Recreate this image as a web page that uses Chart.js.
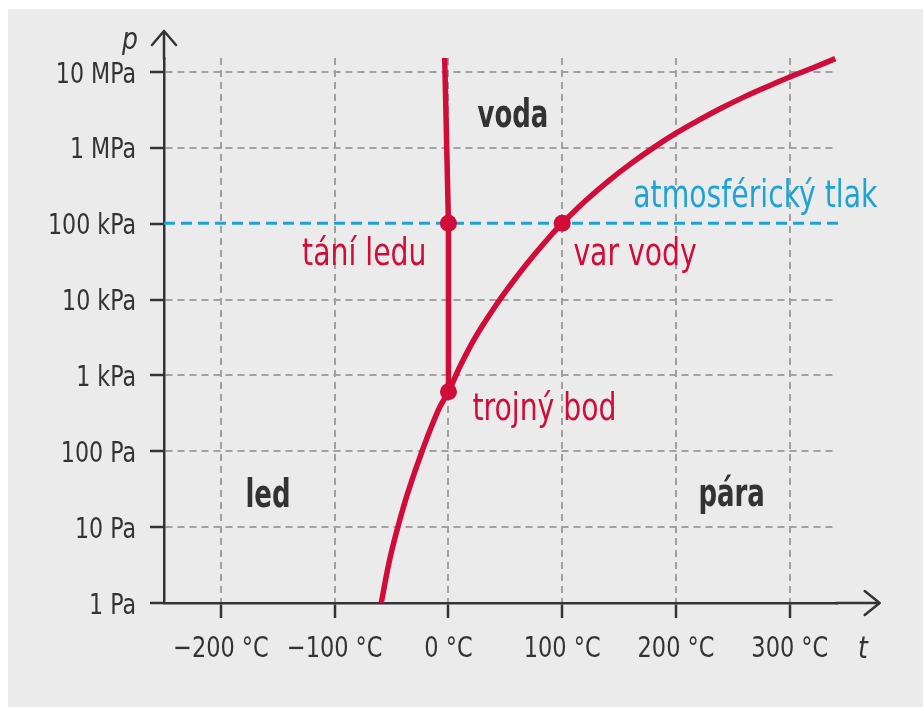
<!DOCTYPE html>
<html>
<head>
<meta charset="utf-8">
<title>Fázový diagram vody</title>
<script src="https://cdn.jsdelivr.net/npm/chart.js@4.4.0/dist/chart.umd.min.js"></script>
<style>
    html, body { margin: 0; padding: 0; background: #ffffff; }
    #wrap { width: 923px; height: 707px; }
</style>
</head>
<body>
<div id="wrap"><canvas id="phaseChart" width="923" height="707"></canvas></div>
<script>
    // křivka sublimace + vypařování (t v °C, p v Pa)
    var curveT = [-59.1, -51.7, -44.4, -35.9, -23.1, -8.9, 0.01,
        10, 20, 30, 40, 50, 60, 70, 80, 90, 100,
        120, 140, 160, 180, 200, 220, 240, 260, 280, 300, 320, 340];
    var curveP = [1, 3.7, 10.1, 27.9, 101, 350, 611,
        1300, 2550, 4550, 7700, 12600, 20000, 31000, 47000, 70000, 101325,
        198000, 360000, 615000, 1000000, 1560000, 2320000, 3350000, 4700000, 6400000, 8600000, 11300000, 15000000];

    // křivka tání
    var meltT = [0.01, 0, -3.3];
    var meltP = [611, 101325, 15300000];

    // význačné body
    var pointNames = ["tání ledu", "var vody", "trojný bod"];
    var pointT = [0, 100, 0.01];
    var pointP = [101325, 101325, 611];

    // atmosférický tlak
    var atmT = [-250, 345];
    var atmP = [101325, 101325];

    // osy
    var xTicks = [-200, -100, 0, 100, 200, 300];
    var xTickLabels = ["\u2212200 \u00b0C", "\u2212100 \u00b0C", "0 \u00b0C", "100 \u00b0C", "200 \u00b0C", "300 \u00b0C"];
    var yTicks = [1, 10, 100, 1000, 10000, 100000, 1000000, 10000000];
    var yTickLabels = ["1 Pa", "10 Pa", "100 Pa", "1 kPa", "10 kPa", "100 kPa", "1 MPa", "10 MPa"];

    var FONT = "'DejaVu Sans Condensed', 'DejaVu Sans', sans-serif";
    var RED = "#d20c38";
    var BLUE = "#1ea2d8";
    var DARK = "#333333";
    var GRID = "#a0a0a0";

    function pairs(xs, ys) {
        return xs.map(function (v, i) { return {x: v, y: ys[i]}; });
    }

    // popisky v datových souřadnicích
    var labels = [
        {text: "voda", t: 25.5, p: Math.pow(10, 6.275), color: DARK, bold: true, align: "left"},
        {text: "led", t: -178.4, p: Math.pow(10, 1.269), color: DARK, bold: true, align: "left"},
        {text: "pára", t: 219.7, p: Math.pow(10, 1.282), color: DARK, bold: true, align: "left"},
        {text: pointNames[0], t: -19.3, p: Math.pow(10, 4.457), color: RED, align: "right"},
        {text: pointNames[1], t: 109.8, p: Math.pow(10, 4.457), color: RED, align: "left"},
        {text: pointNames[2], t: 21.1, p: Math.pow(10, 2.415), color: RED, align: "left"},
        {text: "atmosférický tlak", t: 377, p: Math.pow(10, 5.221), color: BLUE, align: "right"}
    ];

    // text stažený do šířky (písmo je užší než DejaVu)
    function drawText(ctx, text, x, y, font, color, align, squeeze) {
        ctx.save();
        ctx.font = font;
        ctx.fillStyle = color;
        ctx.textAlign = align;
        ctx.textBaseline = "alphabetic";
        ctx.translate(x, y);
        ctx.scale(squeeze, 1);
        ctx.fillText(text, 0, 0);
        ctx.restore();
    }

    var paper = {
        id: "paper",
        beforeDraw: function (chart) {
            var ctx = chart.ctx;
            ctx.save();
            ctx.fillStyle = "#ffffff";
            ctx.fillRect(0, 0, chart.width, chart.height);
            ctx.fillStyle = "#ebebeb";
            ctx.fillRect(8, 9, chart.width - 8, chart.height - 9);
            ctx.restore();
        }
    };

    var extras = {
        id: "extras",
        afterDraw: function (chart) {
            var ctx = chart.ctx;
            var sx = chart.scales.x, sy = chart.scales.y;
            var area = chart.chartArea;
            var tipX = sx.getPixelForValue(379);
            var tipY = sy.getPixelForValue(Math.pow(10, 7.54));

            ctx.save();
            ctx.strokeStyle = DARK;
            ctx.lineWidth = 2.5;
            ctx.lineCap = "round";
            ctx.lineJoin = "round";
            ctx.beginPath();
            ctx.moveTo(area.left, area.top + 1);
            ctx.lineTo(area.left, tipY);
            ctx.moveTo(area.left - 12, tipY + 14);
            ctx.lineTo(area.left, tipY);
            ctx.lineTo(area.left + 12, tipY + 14);
            ctx.moveTo(area.right - 1, area.bottom);
            ctx.lineTo(tipX, area.bottom);
            ctx.moveTo(tipX - 15, area.bottom - 12);
            ctx.lineTo(tipX, area.bottom);
            ctx.lineTo(tipX - 15, area.bottom + 12);
            ctx.stroke();
            ctx.restore();

            // popisky os
            yTicks.forEach(function (v, i) {
                drawText(ctx, yTickLabels[i], area.left - 28, sy.getPixelForValue(v) + 10.5,
                    "28px " + FONT, DARK, "right", 0.88);
            });
            xTicks.forEach(function (v, i) {
                drawText(ctx, xTickLabels[i], sx.getPixelForValue(v), area.bottom + 54,
                    "29px " + FONT, DARK, "center", 0.86);
            });

            labels.forEach(function (l) {
                drawText(ctx, l.text, sx.getPixelForValue(l.t), sy.getPixelForValue(l.p),
                    (l.bold ? "bold 39px " : "37px ") + FONT, l.color, l.align, l.bold ? 0.74 : 0.85);
            });

            drawText(ctx, "p", sx.getPixelForValue(-273), sy.getPixelForValue(Math.pow(10, 7.30)),
                "italic 31px " + FONT, DARK, "right", 0.9);
            drawText(ctx, "t", sx.getPixelForValue(360), sy.getPixelForValue(Math.pow(10, -0.72)),
                "italic 31px " + FONT, DARK, "left", 0.9);
        }
    };

    var ctx = document.getElementById("phaseChart");
    var myChart = new Chart(ctx, {
        type: "line",
        data: {
            datasets: [
                {
                    label: "body",
                    data: pairs(pointT, pointP),
                    showLine: false,
                    pointRadius: 8.5,
                    pointBackgroundColor: RED,
                    pointBorderWidth: 0,
                    clip: false
                },
                {
                    label: "sublimace a var",
                    data: pairs(curveT, curveP),
                    borderColor: RED,
                    borderWidth: 5.5,
                    pointRadius: 0,
                    tension: 0.4,
                    borderCapStyle: "butt",
                    clip: false
                },
                {
                    label: "tání",
                    data: pairs(meltT, meltP),
                    borderColor: RED,
                    borderWidth: 5.5,
                    pointRadius: 0,
                    tension: 0,
                    clip: false
                },
                {
                    label: "atmosférický tlak",
                    data: pairs(atmT, atmP),
                    borderColor: BLUE,
                    borderWidth: 3,
                    borderDash: [11, 6],
                    pointRadius: 0,
                    clip: false
                }
            ]
        },
        options: {
            responsive: false,
            animation: false,
            devicePixelRatio: 1,
            layout: {
                padding: {top: 58, right: 86, left: 0, bottom: 0}
            },
            plugins: {
                legend: {display: false},
                tooltip: {enabled: false}
            },
            scales: {
                x: {
                    type: "linear",
                    min: -250,
                    max: 341.5,
                    afterBuildTicks: function (scale) {
                        scale.ticks = xTicks.map(function (v) { return {value: v}; });
                    },
                    afterFit: function (scale) { scale.height = 104; },
                    ticks: {display: false, autoSkip: false},
                    grid: {
                        color: GRID,
                        lineWidth: 2,
                        tickColor: DARK,
                        tickWidth: 2.5,
                        tickLength: 15
                    },
                    border: {color: DARK, width: 2.5, dash: [7, 5]}
                },
                y: {
                    type: "logarithmic",
                    min: 1,
                    max: 15300000,
                    afterBuildTicks: function (scale) {
                        scale.ticks = yTicks.map(function (v) { return {value: v}; });
                    },
                    afterFit: function (scale) { scale.width = 164; },
                    ticks: {display: false, autoSkip: false},
                    grid: {
                        color: function (c) {
                            return (c.tick && (c.tick.value === 100000 || c.tick.value === 1)) ? "rgba(0,0,0,0)" : GRID;
                        },
                        lineWidth: 2,
                        tickColor: DARK,
                        tickWidth: 2.5,
                        tickLength: 14
                    },
                    border: {color: DARK, width: 2.5, dash: [7, 5]}
                }
            }
        },
        plugins: [paper, extras]
    });
</script>
</body>
</html>
